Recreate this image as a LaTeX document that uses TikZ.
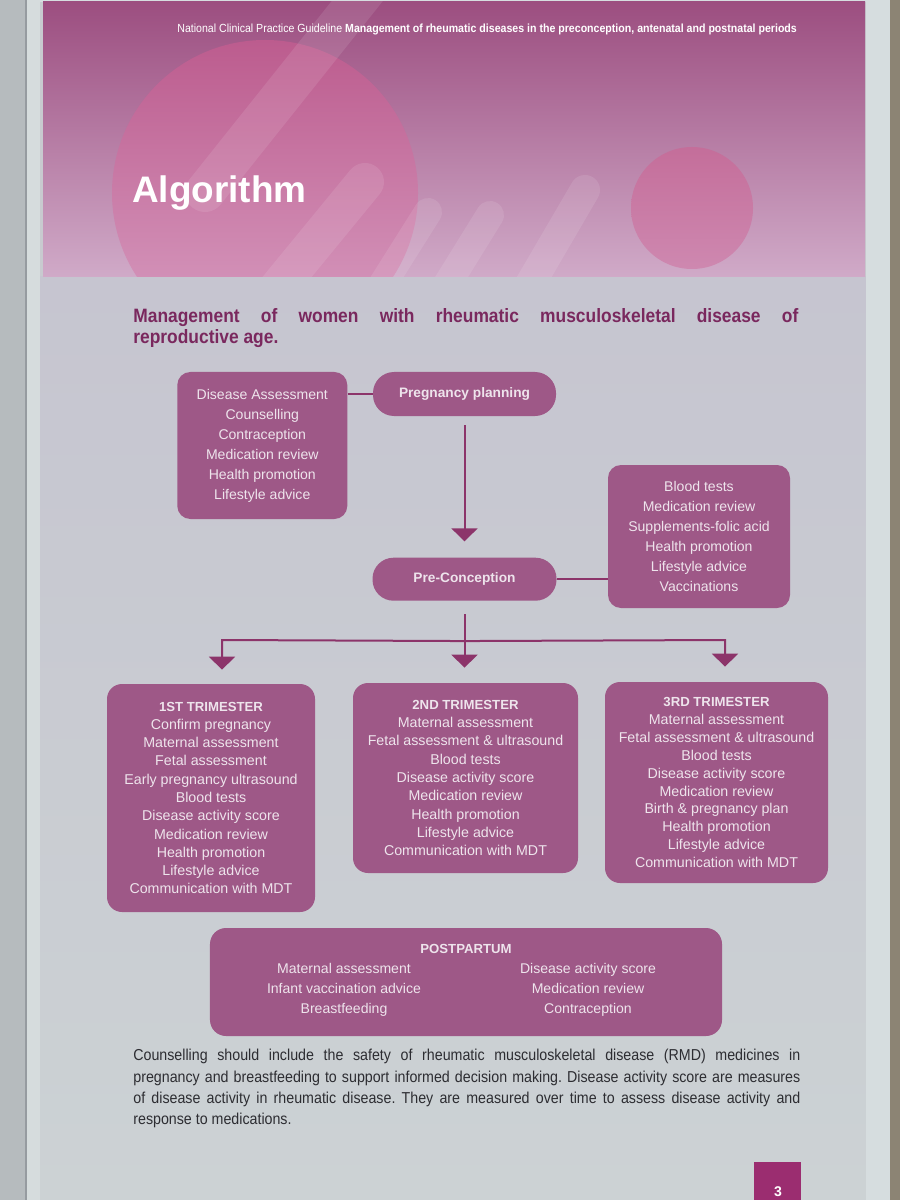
\documentclass[tikz,border=0pt]{standalone}
\usepackage{fontspec}
\setmainfont{Liberation Sans}
\newfontfamily\narrowfont[FakeStretch=0.9]{Liberation Sans}
\usepackage{array}
\usetikzlibrary{shapes, arrows}
\usetikzlibrary{arrows.meta,calc}
\usetikzlibrary{positioning}

\newcommand{\boxhead}[1]{{\fontsize{7.5}{10}\selectfont\bfseries #1}}
\frenchspacing

\begin{document}
\begin{tikzpicture}[x=0.2mm, y=-0.2mm,
    listbox/.style={fill=boxcol, text=boxtext, rounded corners=2.6mm, align=center, inner sep=0pt, font=\fontsize{8}{11.4}\selectfont},
    pill/.style={fill=boxcol, text=boxtext, rounded corners=4.2mm, inner sep=0pt, font=\fontsize{7.8}{9}\selectfont\bfseries},
    trimbox/.style={listbox, rounded corners=3mm},
    link/.style={draw=linecol, line width=0.4mm},
    flow/.style={link, -{Triangle[width=5.2mm, length=2.6mm]}},
    glare/.style={white, opacity=0.1, line cap=round},
  ]
    \definecolor{boxcol}{RGB}{158,88,135}
    \definecolor{boxtext}{RGB}{238,228,236}
    \definecolor{linecol}{RGB}{140,52,106}
    \definecolor{titlecol}{RGB}{122,40,94}
    \definecolor{bandtop}{RGB}{156,78,128}
    \definecolor{bandbot}{RGB}{208,170,200}
    \definecolor{pagenumcol}{RGB}{155,45,112}

    \useasboundingbox (0,0) rectangle (900,1200);

    % page and photo edges
    \fill[fill={rgb,255:red,200;green,202;blue,207}] (0,0) rectangle (900,1200);
    \shade[top color={rgb,255:red,198;green,197;blue,208}, bottom color={rgb,255:red,204;green,210;blue,212}] (40,277) rectangle (866,1200);
    \fill[fill={rgb,255:red,182;green,187;blue,190}] (0,0) rectangle (25,1200);
    \fill[fill={rgb,255:red,150;green,155;blue,160}] (25,0) rectangle (27,1200);
    \fill[fill={rgb,255:red,214;green,220;blue,221}] (27,0) rectangle (40,1200);
    \fill[fill={rgb,255:red,214;green,221;blue,223}] (866,0) rectangle (890,1200);
    \fill[fill={rgb,255:red,140;green,132;blue,116}] (890,0) rectangle (900,1200);
    \fill[fill={rgb,255:red,214;green,220;blue,224}] (40,0) rectangle (866,2);

    % header band
    \shade[top color=bandtop, bottom color=bandbot] (43,2) rectangle (865,277);
    \begin{scope}
      \clip (43,2) rectangle (865,277);
      \shade[top color={rgb,255:red,188;green,92;blue,142}, bottom color={rgb,255:red,216;green,158;blue,194}] (265,193) circle [radius=30.6mm];
      \shade[top color={rgb,255:red,196;green,110;blue,154}, bottom color={rgb,255:red,206;green,136;blue,176}] (692,208) circle [radius=12.2mm];
      \draw[glare, line width=8mm] (205,192) -- (390,-40);
      \draw[glare, line width=7.6mm] (365,182) -- (260,310);
      \draw[glare, line width=5.6mm] (428,212) -- (360,320);
      \draw[glare, line width=5.6mm] (490,215) -- (425,320);
      \draw[glare, line width=6mm] (585,190) -- (515,310);
    \end{scope}

    \node[anchor=west, text=white, inner sep=0pt, font=\narrowfont\fontsize{6.7}{7.5}\selectfont] (runhead) at (177,29)
      {National Clinical Practice Guideline \textbf{Management of rheumatic diseases in the preconception, antenatal and postnatal periods}};
    \node[anchor=base west, text=white, inner sep=0pt, font=\fontsize{21}{24}\selectfont\bfseries] (chapter) at (132,203) {Algorithm};

    % heading
    \node[anchor=north west, inner sep=0pt, text width=133mm, align=justify, text=titlecol,
          font=\narrowfont\bfseries\fontsize{11}{12}\selectfont] (heading) at (133,308)
      {Management of women with rheumatic musculoskeletal disease of\linebreak reproductive age.};

    % flow
    \node[pill, minimum width=36.6mm, minimum height=8.8mm] (plan) at (464.5,394) {Pregnancy planning};
    \node[listbox, minimum width=34mm, minimum height=29.4mm, left=5mm of plan.north west, anchor=north east] (plancare)
      {Disease Assessment\\Counselling\\Contraception\\Medication review\\Health promotion\\Lifestyle advice};
    \node[pill, minimum width=36.8mm, minimum height=8.6mm, below=28.2mm of plan] (precon) {Pre-Conception};
    \node[listbox, minimum width=36.4mm, minimum height=28.6mm] (precare) at (699,536.5)
      {Blood tests\\Medication review\\Supplements-folic acid\\Health promotion\\Lifestyle advice\\Vaccinations};

    \node[trimbox, minimum width=41.6mm, minimum height=45.6mm, font=\fontsize{8.1}{10.4}\selectfont] (trim1) at (211,798)
      {\boxhead{1ST TRIMESTER}\\Confirm pregnancy\\Maternal assessment\\Fetal assessment\\Early pregnancy ultrasound\\Blood tests\\Disease activity score\\Medication review\\Health promotion\\Lifestyle advice\\Communication with MDT};
    \node[trimbox, minimum width=45mm, minimum height=38mm, font=\fontsize{8.1}{10.4}\selectfont] (trim2) at (465.5,778)
      {\boxhead{2ND TRIMESTER}\\Maternal assessment\\Fetal assessment \& ultrasound\\Blood tests\\Disease activity score\\Medication review\\Health promotion\\Lifestyle advice\\Communication with MDT};
    \node[trimbox, minimum width=44.6mm, minimum height=40.2mm, font=\fontsize{8.1}{10.2}\selectfont] (trim3) at (716.5,782.5)
      {\boxhead{3RD TRIMESTER}\\Maternal assessment\\Fetal assessment \& ultrasound\\Blood tests\\Disease activity score\\Medication review\\Birth \& pregnancy plan\\Health promotion\\Lifestyle advice\\Communication with MDT};

    \node[listbox, rounded corners=3.2mm, minimum width=102.4mm, minimum height=21.6mm] (postnatal) at (466,982)
      {\boxhead{POSTPARTUM}\\
       \begin{tabular}[t]{@{}>{\centering}p{44mm}@{\hspace{4.8mm}}>{\centering\arraybackslash}p{44mm}@{}}
         Maternal assessment & Disease activity score\\
         Infant vaccination advice & Medication review\\
         Breastfeeding & Contraception
       \end{tabular}};

    \coordinate (split) at ($(precon.south)+(0,40)$);
    \coordinate (lsplit) at (222,640);
    \coordinate (rsplit) at (725,640);

    \draw[link] (plancare.east |- plan.west) -- (plan.west);
    \draw[flow, shorten <=1.8mm, shorten >=3.2mm] (plan.south) -- (precon.north);
    \draw[link] (precon.east) -- (precon.east -| precare.west);
    \draw[flow, shorten <=2.6mm, shorten >=3mm] (precon.south) -- (split |- trim2.north);
    \draw[flow, shorten >=2.8mm] (split) -- (lsplit) -- (lsplit |- trim1.north);
    \draw[flow, shorten >=3mm] (split) -- (rsplit) -- (rsplit |- trim3.north);

    % note
    \node[anchor=north west, inner sep=0pt, text width=133.4mm, align=justify, text={rgb,255:red,45;green,45;blue,50},
          font=\narrowfont\fontsize{9}{12.1}\selectfont] (note) at (133,1049)
      {Counselling should include the safety of rheumatic musculoskeletal disease (RMD) medicines in\linebreak
       pregnancy and breastfeeding to support informed decision making. Disease activity score are measures\linebreak
       of disease activity in rheumatic disease. They are measured over time to assess disease activity and\linebreak
       response to medications.};

    % page number
    \fill[pagenumcol] (754,1162) rectangle (801,1205);
    \node[text=white, inner sep=0pt, font=\fontsize{8}{9}\selectfont\bfseries] (pagenum) at (778,1192) {3};
\end{tikzpicture}
\end{document}
